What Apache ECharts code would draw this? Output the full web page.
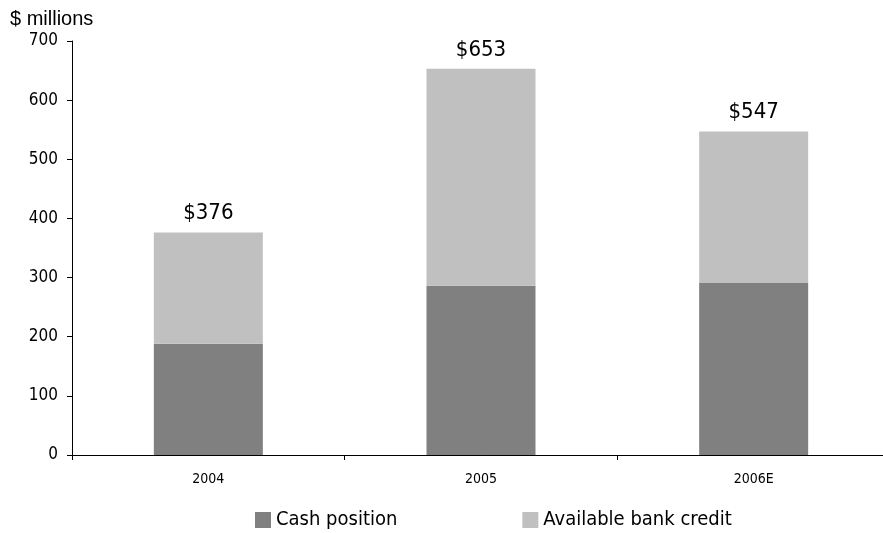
<!DOCTYPE html>
<html>
<head>
<meta charset="utf-8">
<script src="https://cdn.jsdelivr.net/npm/echarts@6/dist/echarts.min.js"></script>
<style>
  html, body { margin: 0; padding: 0; background: #fff; overflow: hidden; }
  /* the x axis runs a little past the right edge of the picture */
  #chart { width: 900px; height: 533px; }
</style>
</head>
<body>
<div id="chart"></div>
<script>
// values, $ millions
const years = ['2004', '2005', '2006E']
const cashPosition = [188, 286, 291]
const bankCredit = [188, 367, 256]
const totals = [376, 653, 547]
const yTicks = { min: 0, max: 700, interval: 100 }

const chart = echarts.init(document.getElementById('chart'))

chart.setOption({
  animation: false,
  textStyle: { fontFamily: 'DejaVu Sans Condensed' },
  title: {
    text: '$ millions',
    left: 5,
    top: 4,
    textStyle: { fontFamily: 'Liberation Sans', fontSize: 20, fontWeight: 'normal', color: '#000' }
  },
  legend: {
    data: ['Cash position', 'Available bank credit'],
    top: 505,
    left: 250,
    itemWidth: 16,
    itemHeight: 16,
    itemGap: 125,
    icon: 'rect',
    textStyle: { fontSize: 20, color: '#000' }
  },
  grid: { left: 72, top: 41, width: 818, height: 414 },
  xAxis: {
    type: 'category',
    data: years,
    axisLine: { lineStyle: { color: '#000', width: 1 } },
    axisTick: { show: true, length: 5, lineStyle: { color: '#000' } },
    axisLabel: { color: '#000', fontSize: 14, margin: 17 }
  },
  yAxis: {
    type: 'value',
    min: yTicks.min,
    max: yTicks.max,
    interval: yTicks.interval,
    axisLine: { show: true, lineStyle: { color: '#000' } },
    axisTick: { show: true, length: 5, lineStyle: { color: '#000' } },
    axisLabel: { color: '#000', fontSize: 17, margin: 14 },
    splitLine: { show: false }
  },
  series: [
    {
      name: 'Cash position',
      type: 'bar',
      stack: 'total',
      barWidth: 109,
      itemStyle: { color: '#808080' },
      data: cashPosition
    },
    {
      name: 'Available bank credit',
      type: 'bar',
      stack: 'total',
      barWidth: 109,
      itemStyle: { color: '#c0c0c0' },
      label: {
        show: true,
        position: 'top',
        distance: 8,
        fontSize: 22,
        color: '#000',
        formatter: p => '$' + totals[p.dataIndex]
      },
      data: bankCredit
    }
  ]
})
</script>
</body>
</html>
